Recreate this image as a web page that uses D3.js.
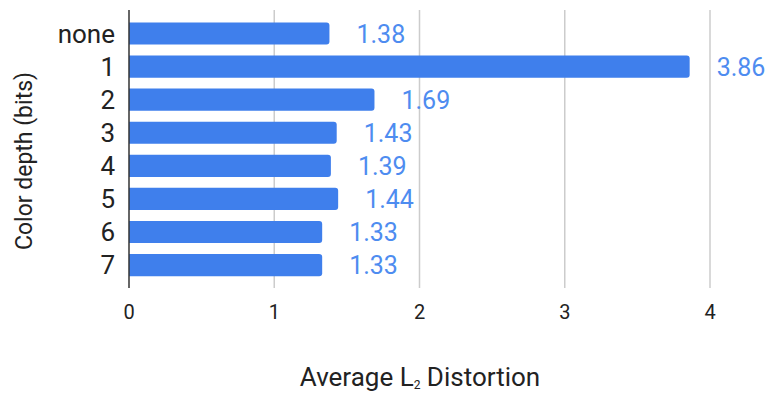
<!DOCTYPE html>
<html>
<head>
<meta charset="utf-8">
<script src="https://cdn.jsdelivr.net/npm/d3@7"></script>
<style>
  body { margin: 0; background: #fff; }
  text { font-family: Roboto, sans-serif; }
</style>
</head>
<body>
<svg id="chart"></svg>
<script>
const categories = ['none', '1', '2', '3', '4', '5', '6', '7'];
const values = [1.38, 3.86, 1.69, 1.43, 1.39, 1.44, 1.33, 1.33];
const xTicks = [0, 1, 2, 3, 4];

const w = 767;
const h = 393;

const svg = d3.select('#chart').attr('width', w).attr('height', h);

const xScale = d3.scaleLinear().domain([0, 4]).range([129, 710]);

const yScale = d3
  .scaleBand()
  .domain(categories)
  .range([17, 281.6])
  .paddingInner(0.33)
  .paddingOuter(0.165);

// gridlines
svg
  .selectAll('line.grid')
  .data(xTicks.slice(1))
  .enter()
  .append('line')
  .attr('class', 'grid')
  .attr('x1', (d) => xScale(d))
  .attr('x2', (d) => xScale(d))
  .attr('y1', 10)
  .attr('y2', 288)
  .attr('stroke', '#cccccc')
  .attr('stroke-width', 1.5);

// bars with rounded right end
const r = 3;
svg
  .selectAll('path.bar')
  .data(values)
  .enter()
  .append('path')
  .attr('class', 'bar')
  .attr('fill', '#3f7fec')
  .attr('d', (d, i) => {
    const x0 = xScale(0);
    const x1 = xScale(d);
    const y0 = yScale(categories[i]);
    const bh = yScale.bandwidth();
    return `M${x0},${y0}H${x1 - r}Q${x1},${y0} ${x1},${y0 + r}V${y0 + bh - r}Q${x1},${y0 + bh} ${x1 - r},${y0 + bh}H${x0}Z`;
  });

// value labels
svg
  .selectAll('text.val')
  .data(values)
  .enter()
  .append('text')
  .attr('class', 'val')
  .attr('x', (d) => xScale(d) + 27)
  .attr('y', (d, i) => yScale(categories[i]) + yScale.bandwidth() / 2)
  .attr('dy', '0.36em')
  .attr('fill', '#4e8cf0')
  .attr('font-size', 25)
  .text((d) => d.toFixed(2));

// zero axis line
svg
  .append('line')
  .attr('x1', xScale(0))
  .attr('x2', xScale(0))
  .attr('y1', 10)
  .attr('y2', 288)
  .attr('stroke', '#333')
  .attr('stroke-width', 1.5);

// category labels
svg
  .selectAll('text.cat')
  .data(categories)
  .enter()
  .append('text')
  .attr('class', 'cat')
  .attr('x', 115)
  .attr('y', (d) => yScale(d) + yScale.bandwidth() / 2)
  .attr('dy', '0.36em')
  .attr('text-anchor', 'end')
  .attr('fill', '#222')
  .attr('font-size', 26)
  .text((d) => d);

// x tick labels
svg
  .selectAll('text.tick')
  .data(xTicks)
  .enter()
  .append('text')
  .attr('class', 'tick')
  .attr('x', (d) => xScale(d))
  .attr('y', 311.5)
  .attr('dy', '0.36em')
  .attr('text-anchor', 'middle')
  .attr('fill', '#222')
  .attr('font-size', 20)
  .text((d) => d);

// x axis title
const xt = svg
  .append('text')
  .attr('x', 420)
  .attr('y', 377)
  .attr('dy', '0.36em')
  .attr('text-anchor', 'middle')
  .attr('fill', '#222')
  .attr('font-size', 26);
xt.append('tspan').text('Average L');
xt.append('tspan').attr('font-size', 12).attr('dy', '0.2em').text('2');
xt.append('tspan').attr('dy', '-0.1em').text(' Distortion');

// y axis title
svg
  .append('text')
  .attr('transform', 'translate(24, 161) rotate(-90)')
  .attr('dy', '0.36em')
  .attr('text-anchor', 'middle')
  .attr('fill', '#222')
  .attr('font-size', 23)
  .text('Color depth (bits)');
</script>
</body>
</html>
